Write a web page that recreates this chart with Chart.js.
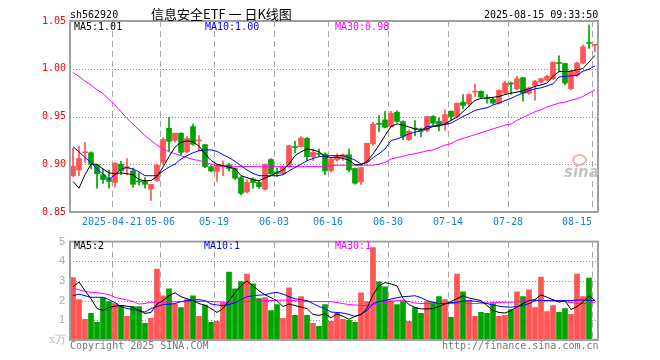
<!DOCTYPE html>
<html>
<head>
<meta charset="utf-8">
<script src="https://cdn.jsdelivr.net/npm/chart.js@4.4.1/dist/chart.umd.min.js"></script>
<style>
  body { margin: 0; background: #fff; }
  #wrap { position: relative; width: 660px; height: 360px; overflow: hidden; font-family: "DejaVu Sans Mono", monospace; }
  .t { position: absolute; font-size: 10px; line-height: 12px; white-space: pre; }
  canvas { position: absolute; left: 0; }
</style>
</head>
<body>
<div id="wrap">
  <canvas id="kline" width="660" height="230" style="top:0"></canvas>
  <canvas id="vol" width="660" height="130" style="top:230px"></canvas>

  <div class="t" style="left:70px;top:9px;">sh562920</div>
  <div class="t" style="left:151px;top:6px;font-size:13px;line-height:16px;font-family:'Noto Sans CJK SC',sans-serif;">信息安全ETF 一 日K线图</div>
  <div class="t" style="left:484px;top:9px;">2025-08-15 09:33:50</div>

  <div class="t" style="left:74px;top:21px;color:#000;">MA5:1.01</div>
  <div class="t" style="left:205px;top:21px;color:#0000ff;">MA10:1.00</div>
  <div class="t" style="left:335px;top:21px;color:#ff00ff;">MA30:0.98</div>

  <div class="t" style="left:74px;top:240px;color:#000;">MA5:2</div>
  <div class="t" style="left:204px;top:240px;color:#0000ff;">MA10:1</div>
  <div class="t" style="left:335px;top:240px;color:#ff00ff;">MA30:1</div>

  <div class="t" style="left:49px;top:334px;color:#bbb;font-size:11px;font-family:'DejaVu Serif',serif;">x万</div>
  <div class="t" style="left:70px;top:340px;color:#777;">Copyright 2025 SINA.COM</div>
  <div class="t" style="left:442px;top:340px;color:#777;">http://finance.sina.com.cn</div>
  <div style="position:absolute;left:572px;top:154px;width:11px;height:8px;border:2px solid #f2b0b0;border-radius:50%;"></div>
  <div class="t" style="left:564px;top:164px;color:#c4c4c4;font-size:15px;line-height:16px;font-style:italic;font-weight:bold;font-family:'DejaVu Sans',sans-serif;">sina</div>
</div>

<script>
// trading days shown (2025)
const dates = [
  "04-10","04-11","04-14","04-15","04-16","04-17","04-18","04-21","04-22","04-23",
  "04-24","04-25","04-28","04-29","04-30","05-06","05-07","05-08","05-09","05-12",
  "05-13","05-14","05-15","05-16","05-19","05-20","05-21","05-22","05-23","05-26",
  "05-27","05-28","05-29","05-30","06-03","06-04","06-05","06-06","06-09","06-10",
  "06-11","06-12","06-13","06-16","06-17","06-18","06-19","06-20","06-23","06-24",
  "06-25","06-26","06-27","06-30","07-01","07-02","07-03","07-04","07-07","07-08",
  "07-09","07-10","07-11","07-14","07-15","07-16","07-17","07-18","07-21","07-22",
  "07-23","07-24","07-25","07-28","07-29","07-30","07-31","08-01","08-04","08-05",
  "08-06","08-07","08-08","08-11","08-12","08-13","08-14","08-15"
];

const opens = [
  0.888,0.894,0.912,0.912,0.8995,0.889,0.885,0.881,0.900,0.8955,
  0.893,0.8825,0.882,0.874,0.883,0.902,0.9377,0.925,0.9325,0.913,
  0.9395,0.9245,0.9205,0.8975,0.8925,0.898,0.8995,0.8955,0.886,0.871,
  0.8845,0.881,0.874,0.905,0.891,0.890,0.8976,0.9185,0.9185,0.927,
  0.908,0.911,0.9107,0.8932,0.9045,0.9065,0.910,0.8956,0.8816,0.903,
  0.9213,0.9425,0.9465,0.9395,0.9545,0.9447,0.9258,0.9375,0.935,0.9353,
  0.950,0.945,0.9416,0.9556,0.950,0.965,0.9634,0.9755,0.9763,0.969,
  0.968,0.964,0.9744,0.985,0.979,0.9906,0.9744,0.9826,0.986,0.988,
  0.9896,1.0065,1.0055,0.979,0.9932,1.006,1.0275,1.0245
];
const highs = [
  0.917,0.919,0.923,0.913,0.900,0.895,0.894,0.902,0.903,0.906,
  0.896,0.891,0.886,0.879,0.900,0.928,0.949,0.9325,0.933,0.929,
  0.942,0.930,0.921,0.8985,0.900,0.9037,0.901,0.896,0.887,0.884,
  0.886,0.883,0.9005,0.906,0.896,0.898,0.920,0.924,0.929,0.928,
  0.916,0.916,0.912,0.907,0.911,0.911,0.916,0.896,0.897,0.922,
  0.944,0.951,0.9555,0.9555,0.956,0.9455,0.936,0.9458,0.938,0.950,
  0.951,0.9486,0.957,0.956,0.964,0.973,0.974,0.984,0.977,0.973,
  0.970,0.978,0.987,0.986,0.992,0.991,0.981,0.988,0.990,0.993,
  1.007,1.0134,1.006,0.998,1.007,1.025,1.0458,1.025
];
const lows = [
  0.887,0.888,0.902,0.895,0.875,0.880,0.875,0.876,0.889,0.889,
  0.876,0.878,0.875,0.862,0.882,0.900,0.914,0.923,0.910,0.912,
  0.920,0.914,0.8965,0.892,0.882,0.888,0.893,0.884,0.868,0.870,
  0.8746,0.8746,0.873,0.888,0.887,0.889,0.897,0.912,0.918,0.904,
  0.904,0.908,0.889,0.892,0.903,0.904,0.892,0.879,0.879,0.902,
  0.920,0.934,0.938,0.939,0.944,0.9255,0.925,0.930,0.929,0.934,
  0.941,0.935,0.9353,0.946,0.949,0.958,0.960,0.971,0.969,0.964,
  0.963,0.963,0.974,0.973,0.978,0.966,0.973,0.967,0.985,0.987,
  0.9885,0.997,0.983,0.978,0.992,1.005,1.0213,1.0177
];
const closes = [
  0.898,0.906,0.913,0.900,0.890,0.884,0.882,0.901,0.893,0.8975,
  0.879,0.8815,0.879,0.879,0.899,0.926,0.924,0.9325,0.9125,0.927,
  0.921,0.925,0.8975,0.893,0.8995,0.8985,0.8955,0.8855,0.8695,0.881,
  0.8808,0.8766,0.900,0.890,0.8905,0.897,0.9194,0.9175,0.9275,0.908,
  0.9125,0.9105,0.893,0.9055,0.908,0.910,0.894,0.8802,0.8966,0.922,
  0.942,0.9418,0.9387,0.9535,0.9447,0.9293,0.9345,0.9368,0.9343,0.950,
  0.943,0.9416,0.952,0.950,0.964,0.9615,0.973,0.976,0.9703,0.9684,
  0.964,0.9774,0.985,0.984,0.9896,0.9744,0.980,0.987,0.9896,0.992,
  1.007,1.0055,0.985,0.997,1.006,1.023,1.0265,1.025
];

const ma5 = [
  0.882,0.875,0.889,0.900,0.900,0.895,0.891,0.890,0.891,0.890,
  0.889,0.884,0.8826,0.883,0.887,0.897,0.908,0.918,0.923,0.9245,
  0.9235,0.919,0.911,0.904,0.900,0.8984,0.897,0.8955,0.888,0.886,
  0.884,0.8826,0.8857,0.888,0.8914,0.894,0.9002,0.909,0.913,0.916,
  0.915,0.913,0.908,0.907,0.9075,0.906,0.9044,0.8995,0.8995,0.903,
  0.9107,0.920,0.930,0.9395,0.9423,0.941,0.939,0.937,0.9365,0.937,
  0.9395,0.940,0.942,0.946,0.9493,0.955,0.961,0.9668,0.969,0.9695,
  0.970,0.971,0.973,0.9745,0.9755,0.977,0.979,0.9816,0.983,0.985,
  0.992,0.997,0.997,0.9975,0.999,1.0002,1.0071,1.014
];
const ma10 = [
  0.9184,0.913,0.907,0.902,0.895,0.8897,0.8844,0.889,0.895,0.8966,
  0.895,0.892,0.888,0.888,0.888,0.893,0.897,0.9002,0.9055,0.909,
  0.912,0.9142,0.915,0.915,0.9135,0.910,0.907,0.903,0.8984,0.894,
  0.8905,0.888,0.888,0.888,0.888,0.889,0.893,0.8966,0.900,0.9037,
  0.906,0.908,0.9085,0.909,0.909,0.909,0.907,0.9044,0.9002,0.9015,
  0.907,0.911,0.916,0.9247,0.9265,0.929,0.9318,0.9335,0.9353,0.9395,
  0.940,0.941,0.9416,0.943,0.9465,0.950,0.953,0.9563,0.958,0.9592,
  0.962,0.964,0.9668,0.969,0.972,0.9745,0.977,0.979,0.980,0.982,
  0.9842,0.9914,0.992,0.9925,0.993,0.9975,0.9995,1.003
];
const ma30 = [
  0.996,0.992,0.987,0.983,0.978,0.974,0.968,0.962,0.955,0.948,
  0.942,0.936,0.930,0.925,0.920,0.916,0.913,0.911,0.909,0.907,
  0.905,0.904,0.902,0.900,0.8985,0.898,0.8975,0.8975,0.8975,0.8975,
  0.8975,0.8975,0.8975,0.8975,0.8975,0.8975,0.8975,0.8975,0.8975,0.8975,
  0.8975,0.8975,0.898,0.8985,0.899,0.899,0.899,0.899,0.899,0.899,
  0.899,0.900,0.902,0.9055,0.907,0.9085,0.910,0.911,0.9125,0.914,
  0.915,0.9175,0.920,0.9215,0.925,0.927,0.929,0.931,0.933,0.935,
  0.937,0.939,0.941,0.942,0.946,0.949,0.952,0.955,0.957,0.960,
  0.962,0.964,0.965,0.967,0.9686,0.971,0.9745,0.978
];

const volumes = [
  3.17,2.05,1.05,1.35,0.9,2.15,1.95,1.85,1.75,1.2,
  1.7,1.7,0.85,1.1,3.6,2.25,2.6,1.83,1.65,2.05,
  2.25,1.2,1.77,0.9,0.95,1.9,3.45,2.6,2.97,3.35,
  2.85,2.1,2.15,1.5,1.8,1.1,2.65,1.25,2.2,1.25,
  0.85,0.7,1.8,0.95,1.37,1.05,1.0,0.9,2.4,1.95,
  4.7,2.95,2.7,2.0,1.8,1.95,0.95,1.65,1.35,1.95,
  1.9,2.2,2.05,1.15,3.35,2.45,2.0,1.2,1.4,1.35,
  1.85,1.2,1.25,1.55,2.45,2.2,2.55,1.65,3.2,1.45,
  1.75,1.4,1.6,1.3,3.35,2.2,3.15,0.05
];
const volMa5 = [
  2.7,2.95,2.5,2.1,1.6,1.5,1.65,1.72,1.75,1.72,
  1.67,1.5,1.35,1.4,1.83,2.0,2.25,2.4,2.2,2.1,
  2.0,1.85,1.77,1.6,1.4,1.6,2.0,2.4,2.75,3.0,
  2.75,2.5,2.3,2.15,2.0,1.7,1.83,1.75,1.67,1.6,
  1.3,1.25,1.33,1.13,1.33,1.2,1.05,1.2,1.3,1.6,
  2.3,2.75,2.92,2.85,2.75,2.1,1.8,1.65,1.58,1.58,
  1.6,1.7,1.83,1.95,2.1,2.25,2.13,2.07,2.0,1.75,
  1.5,1.4,1.37,1.5,1.67,1.85,2.0,2.05,2.3,2.17,
  2.05,1.92,2.0,1.55,1.7,1.92,2.25,2.0
];
const volMa10 = [
  2.25,2.33,2.25,2.17,2.17,2.17,2.05,1.9,1.7,1.6,
  1.55,1.5,1.42,1.6,1.7,1.8,1.82,1.85,1.95,2.0,
  2.02,2.05,2.0,1.83,1.78,1.75,1.8,1.9,2.05,2.2,
  2.25,2.28,2.3,2.38,2.42,2.33,2.2,2.1,2.05,2.0,
  1.85,1.7,1.6,1.42,1.4,1.37,1.3,1.2,1.3,1.5,
  1.85,1.95,2.0,2.08,2.15,2.2,2.22,2.25,2.15,2.0,
  1.92,1.85,1.85,1.9,1.92,1.97,2.0,1.97,1.92,1.85,
  1.78,1.72,1.68,1.67,1.7,1.75,1.85,2.0,2.0,2.0,
  2.0,2.0,2.0,2.0,2.03,2.03,2.02,2.0
];
const volMa30 = [
  2.63,2.55,2.47,2.42,2.4,2.37,2.3,2.17,2.1,2.03,
  1.95,1.83,1.85,1.92,1.92,1.92,1.93,1.94,1.95,1.95,
  1.96,1.96,1.97,1.96,1.94,1.92,1.93,1.94,1.95,1.95,
  1.96,1.98,2.0,2.0,2.02,2.03,2.02,2.0,1.97,1.95,
  1.95,1.95,1.95,1.95,1.9,1.85,1.8,1.78,1.76,1.75,
  1.8,1.85,1.9,1.95,2.0,2.0,1.95,1.88,1.85,1.85,
  1.85,1.85,1.85,1.85,1.85,1.85,1.85,1.85,1.87,1.88,
  1.9,1.9,1.92,1.92,1.95,2.0,2.03,2.03,2.02,2.0,
  2.0,1.98,1.95,1.9,1.88,1.85,1.87,1.9
];

// dates that get a dashed grid line and a label
const tickDates = ["04-21","05-06","05-19","06-03","06-16","06-30","07-14","07-28","08-15"];
const tickTexts = ["2025-04-21","05-06","05-19","06-03","06-16","06-30","07-14","07-28","08-15"];
const priceGrid = [0.90, 0.95, 1.00];
const volGrid = [1, 2, 3, 4];

const UP = "#ff5555";
const DOWN = "#00a400";
const GRID = "#a8a8a8";
const DOTS = "#8c8c8c";
const MONO = "DejaVu Sans Mono";

const barColors = opens.map((o, i) => closes[i] >= o ? UP : DOWN);

// dashed date lines and dotted value lines, drawn as small rects
// (setLineDash does not show up in this renderer)
const guides = {
  id: "guides",
  beforeDatasetsDraw(chart, args, opts) {
    const ctx = chart.ctx;
    const a = chart.chartArea;
    const x = chart.scales.x;
    const y = chart.scales.y;
    const half = (x.getPixelForValue(1) - x.getPixelForValue(0)) / 2;
    ctx.save();
    ctx.fillStyle = GRID;
    tickDates.forEach((d) => {
      const px = Math.round(x.getPixelForValue(dates.indexOf(d)) - half);
      for (let yy = a.top; yy < a.bottom; yy += 10) {
        ctx.fillRect(px, yy, 1, Math.min(6, a.bottom - yy));
      }
    });
    ctx.fillStyle = DOTS;
    (opts.levels || []).forEach((v) => {
      const py = Math.round(y.getPixelForValue(v));
      for (let xx = a.left; xx < a.right; xx += 3) {
        ctx.fillRect(xx, py, 1, 1);
      }
    });
    ctx.restore();
  }
};

const frame = {
  id: "frame",
  afterDatasetsDraw(chart) {
    const ctx = chart.ctx;
    const a = chart.chartArea;
    ctx.save();
    ctx.strokeStyle = "#a0a0a0";
    ctx.lineWidth = 2;
    ctx.strokeRect(a.left, a.top, a.right - a.left, a.bottom - a.top);
    ctx.restore();
  }
};

const lineSet = (data, color) => ({
  type: "line", data: data, borderColor: color, borderWidth: 1,
  pointRadius: 0, tension: 0, order: 0
});

new Chart(document.getElementById("kline"), {
  type: "bar",
  data: {
    labels: dates,
    datasets: [
      lineSet(ma5, "#000000"),
      lineSet(ma10, "#0000ff"),
      lineSet(ma30, "#ff00ff"),
      {
        data: dates.map((d, i) => [opens[i], closes[i]]),
        backgroundColor: barColors, barThickness: 5, minBarLength: 1,
        grouped: false, order: 2
      },
      {
        data: dates.map((d, i) => [lows[i], highs[i]]),
        backgroundColor: barColors, barThickness: 1, minBarLength: 1,
        grouped: false, order: 3
      }
    ]
  },
  options: {
    responsive: false,
    animation: false,
    layout: { padding: { top: 21, right: 62, left: 0, bottom: 0 } },
    plugins: {
      legend: { display: false }, tooltip: { enabled: false },
      guides: { levels: priceGrid }
    },
    scales: {
      x: {
        grid: { display: false, drawTicks: false },
        border: { display: false },
        ticks: {
          autoSkip: false, maxRotation: 0, padding: 4, labelOffset: -3, align: "inner",
          color: "#1a7fd0", font: { family: MONO, size: 10 },
          callback: (v, i) => {
            const k = tickDates.indexOf(dates[i]);
            return k >= 0 ? tickTexts[k] : "";
          }
        },
        afterFit: (s) => { s.height = 18; }
      },
      y: {
        min: 0.85, max: 1.05,
        grid: { display: false, drawTicks: false },
        border: { display: false },
        ticks: {
          stepSize: 0.05, padding: 4, color: "#ff0000",
          font: { family: MONO, size: 10 },
          callback: (v) => v.toFixed(2)
        },
        afterFit: (s) => { s.width = 70; }
      }
    }
  },
  plugins: [guides, frame]
});

new Chart(document.getElementById("vol"), {
  type: "bar",
  data: {
    labels: dates,
    datasets: [
      lineSet(volMa5, "#000000"),
      lineSet(volMa10, "#0000ff"),
      lineSet(volMa30, "#ff00ff"),
      {
        data: volumes, backgroundColor: barColors, barThickness: 5,
        grouped: false, order: 2
      }
    ]
  },
  options: {
    responsive: false,
    animation: false,
    layout: { padding: { top: 11, right: 62, left: 0, bottom: 0 } },
    plugins: {
      legend: { display: false }, tooltip: { enabled: false },
      guides: { levels: volGrid }
    },
    scales: {
      x: {
        grid: { display: false, drawTicks: false },
        border: { display: false },
        ticks: { display: false },
        afterFit: (s) => { s.height = 20; }
      },
      y: {
        min: 0, max: 5,
        grid: { display: false, drawTicks: false },
        border: { display: false },
        ticks: {
          stepSize: 1, padding: 5, color: "#aaaaaa",
          font: { family: "Liberation Sans", size: 11 },
          callback: (v) => v === 0 ? "" : String(v)
        },
        afterFit: (s) => { s.width = 70; }
      }
    }
  },
  plugins: [guides, frame]
});
</script>
</body>
</html>
